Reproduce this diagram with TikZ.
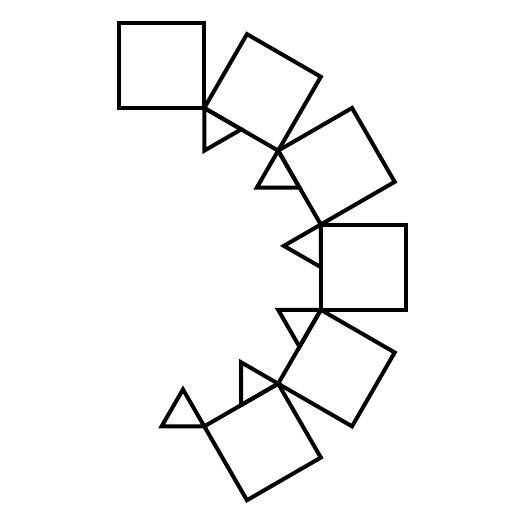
\documentclass[tikz,border=0pt]{standalone}
\begin{document}
\begin{tikzpicture}[x=0.5pt,y=-0.5pt,
  sq/.style={draw=black,line width=2pt,line join=miter},
  tri/.style={draw=black,line width=2pt,line join=miter}]
\useasboundingbox (0,0) rectangle (525,525);
\coordinate (Q0) at (119,108);
\foreach \i/\j in {0/1,1/2,2/3,3/4,4/5,5/6} {
  \draw[sq] (Q\i) -- ++({30*\i}:85.3) coordinate (Q\j) -- ++({30*\i-90}:85.3) -- ++({30*\i-180}:85.3) -- cycle;
}
\foreach \j in {1,...,6} {
  \draw[tri] (Q\j) -- ++({30*\j}:42.65) -- ++({30*\j+120}:42.65) -- cycle;
}
\end{tikzpicture}
\end{document}
